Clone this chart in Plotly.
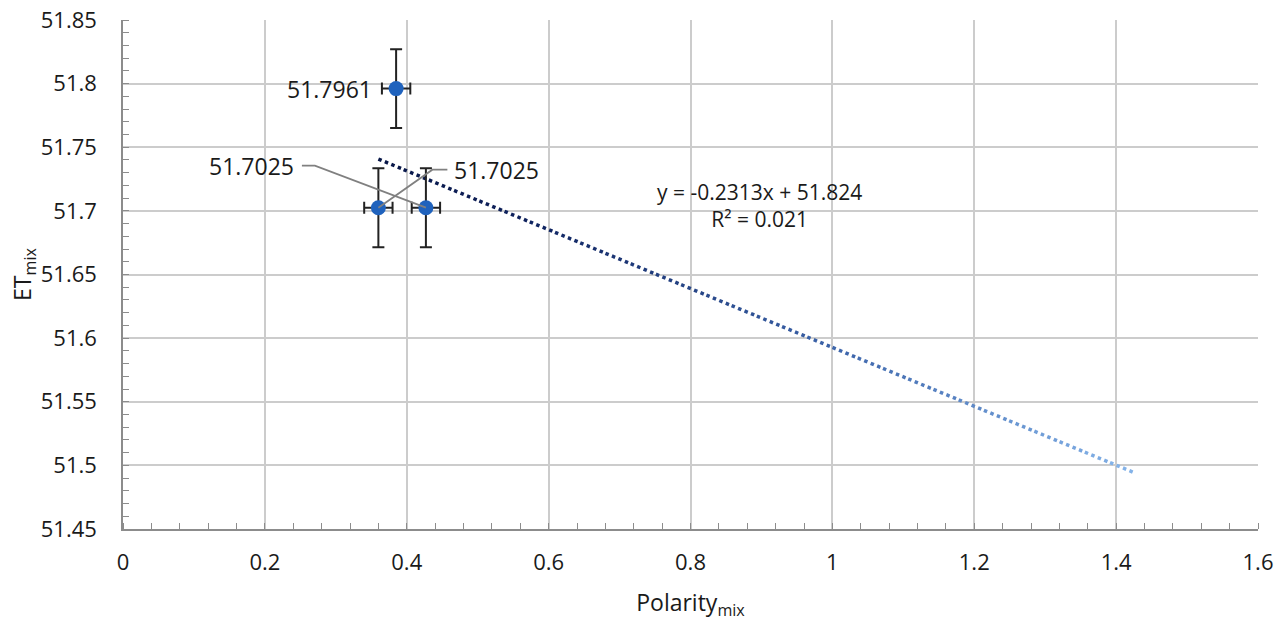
import plotly.graph_objects as go
import numpy as np

# ---- data ----
polarity = [0.36, 0.385, 0.427]
et_mix = [51.7025, 51.7961, 51.7025]
err_y = [0.031, 0.031, 0.031]
err_x = [0.02, 0.02, 0.02]
labels = ["51.7025", "51.7961", "51.7025"]
slope = -0.2313
intercept = 51.824
r2 = 0.021
forecast_forward = 1.0
x_ticks = [0, 0.2, 0.4, 0.6, 0.8, 1, 1.2, 1.4, 1.6]
y_ticks = [51.45, 51.5, 51.55, 51.6, 51.65, 51.7, 51.75, 51.8, 51.85]

FONT = "Open Sans"
TXT = "#1a1a1a"
fig = go.Figure()

# trendline with colour gradient (dark navy -> medium blue -> light blue)
x0 = min(polarity)
x1 = max(polarity) + forecast_forward
n_seg = 30
edges = np.linspace(x0, x1, n_seg + 1)
stop_t = [0.0, 0.2, 0.6, 1.0]
stop_c = np.array([[8, 22, 70], [15, 35, 95], [60, 100, 170], [135, 182, 235]])
for i in range(n_seg):
    t = (i + 0.5) / n_seg
    c = [int(np.interp(t, stop_t, stop_c[:, k])) for k in range(3)]
    xs = [edges[i], edges[i + 1]]
    ys = [slope * v + intercept for v in xs]
    fig.add_trace(go.Scatter(
        x=xs, y=ys, mode="lines",
        line=dict(color=f"rgb({c[0]},{c[1]},{c[2]})", width=3.5, dash="dot"),
        hoverinfo="skip", showlegend=False))

# data points with error bars
fig.add_trace(go.Scatter(
    x=polarity, y=et_mix, mode="markers",
    marker=dict(color="#1f62bd", size=15),
    error_y=dict(type="data", array=err_y, color="#222222", thickness=2, width=6),
    error_x=dict(type="data", array=err_x, color="#222222", thickness=2, width=6),
    showlegend=False))

LBL = dict(family=FONT, size=23, color=TXT)
annotations = [
    dict(x=polarity[1], y=et_mix[1], text=labels[1], showarrow=False,
         xanchor="right", yanchor="middle", xshift=-22, font=LBL),
    dict(x=polarity[2], y=et_mix[2], text=labels[2], showarrow=False,
         xanchor="right", yanchor="middle", xshift=-130, yshift=42, font=LBL),
    dict(x=polarity[0], y=et_mix[0], text=labels[0], showarrow=False,
         xanchor="left", yanchor="middle", xshift=74, yshift=38, font=LBL),
    dict(x=0.897, y=51.7148, text=f"y = {slope}x + {intercept}<br>R² = {r2}",
         showarrow=False, xanchor="center", yanchor="top", yshift=16,
         align="center", font=dict(family=FONT, size=21, color=TXT)),
]

# elbow leader lines for data labels (pixel offsets from the data point)
leader = dict(type="path", xsizemode="pixel", ysizemode="pixel", xref="x", yref="y",
              line=dict(color="#808080", width=1.8), layer="above")
shapes = [
    dict(leader, xanchor=polarity[2], yanchor=et_mix[2], path="M 0,0 L -111,42 L -124,42"),
    dict(leader, xanchor=polarity[0], yanchor=et_mix[0], path="M 0,0 L 54,38 L 69,38"),
]

fig.update_layout(
    width=1277, height=621,
    margin=dict(l=123, r=19, t=20, b=92),
    paper_bgcolor="white", plot_bgcolor="white",
    font=dict(family=FONT, size=22, color=TXT),
    annotations=annotations,
    shapes=shapes,
    xaxis=dict(
        range=[0, 1.6], tickvals=x_ticks, ticktext=[str(v) for v in x_ticks],
        showgrid=True, gridcolor="#cccccc", gridwidth=1.5,
        showline=True, linecolor="#8c8c8c", linewidth=1.5,
        ticks="", ticklabelstandoff=13, zeroline=False, automargin=False,
        tickfont=dict(family=FONT, size=22, color=TXT),
        minor=dict(dtick=0.04, ticks="inside", ticklen=6, tickcolor="#8c8c8c", showgrid=False),
        title=dict(text="Polarity<sub>mix</sub>", font=dict(family=FONT, size=23, color=TXT), standoff=25),
    ),
    yaxis=dict(
        range=[51.45, 51.85], tickvals=y_ticks, ticktext=[f"{v:g}" for v in y_ticks],
        showgrid=True, gridcolor="#cccccc", gridwidth=1.5,
        showline=True, linecolor="#8c8c8c", linewidth=1.5,
        ticks="", ticklabelstandoff=20, zeroline=False, automargin=False,
        tickfont=dict(family=FONT, size=22, color=TXT),
        minor=dict(dtick=0.01, ticks="inside", ticklen=6, tickcolor="#8c8c8c", showgrid=False),
        title=dict(text="ET<sub>mix</sub>", font=dict(family=FONT, size=23, color=TXT), standoff=0),
    ),
)

fig.write_html("out.html")
